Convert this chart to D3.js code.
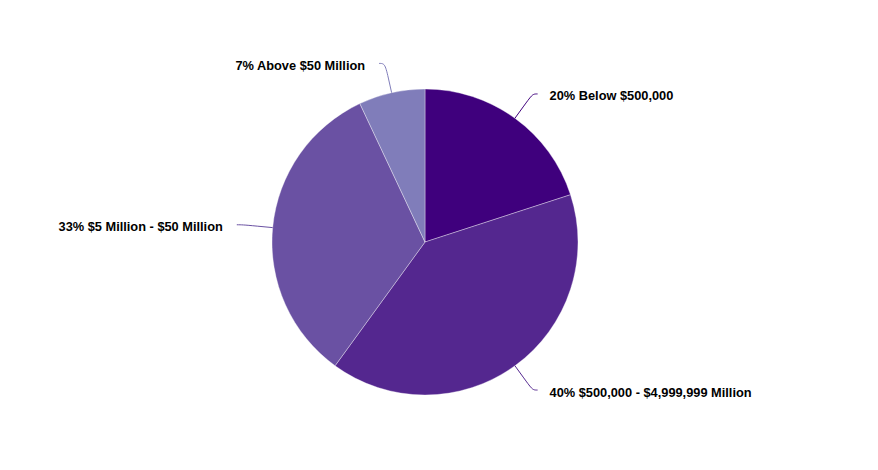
<!DOCTYPE html>
<html>
<head>
<meta charset="utf-8">
<script src="https://cdn.jsdelivr.net/npm/d3@7"></script>
<style>
  html, body { margin: 0; padding: 0; background: #fff; }
  svg { display: block; }
</style>
</head>
<body>
<svg id="chart" width="878" height="470"></svg>
<script>
const categories = ["Below $500,000", "$500,000 - $4,999,999 Million", "$5 Million - $50 Million", "Above $50 Million"];
const values = [20, 40, 33, 7];
const colors = ["#3f007d", "#54278f", "#6a51a3", "#807dba"];

const width = 878, height = 470;
const cx = 425, cy = 242, r = 153;
const labelDistance = 30, breakOffset = 15;

const svg = d3.select("#chart");
const g = svg.append("g").attr("transform", `translate(${cx},${cy})`);

const pie = d3.pie().sort(null).value(d => d.value);
const arcs = pie(categories.map((c, i) => ({ name: c, value: values[i], color: colors[i] })));
const arc = d3.arc().innerRadius(0).outerRadius(r);

g.selectAll("path.slice").data(arcs).join("path")
  .attr("class", "slice")
  .attr("d", arc)
  .attr("fill", d => d.data.color)
  .attr("stroke", "#ffffff")
  .attr("stroke-opacity", 0.35)
  .attr("stroke-width", 1)
  .attr("stroke-linejoin", "round");

const fontSize = 12.8;
arcs.forEach(d => {
  const a = (d.startAngle + d.endAngle) / 2;
  const sx = Math.sin(a), sy = -Math.cos(a);
  const right = sx >= 0;
  const R = r + labelDistance;
  const tx = r * sx, ty = r * sy;
  const bx = (r + breakOffset) * sx, by = (r + breakOffset) * sy;
  const lx = R * sx + (right ? 5 : -6), ly = R * sy;
  const path = `M${lx},${ly} C${lx + (right ? -5 : 5)},${ly} ${2 * bx - tx},${2 * by - ty} ${bx},${by} L${tx},${ty}`;
  g.append("path")
    .attr("d", path)
    .attr("fill", "none")
    .attr("stroke", d.data.color)
    .attr("stroke-width", 1);
  g.append("text")
    .attr("x", lx + (right ? 12 : -14))
    .attr("y", ly + 6.5)
    .attr("text-anchor", right ? "start" : "end")
    .attr("font-family", "'Liberation Sans', Arial, Helvetica, sans-serif")
    .attr("font-size", fontSize)
    .attr("font-weight", "bold")
    .attr("fill", "#000000")
    .text(`${d.data.value}% ${d.data.name}`);
});
</script>
</body>
</html>
